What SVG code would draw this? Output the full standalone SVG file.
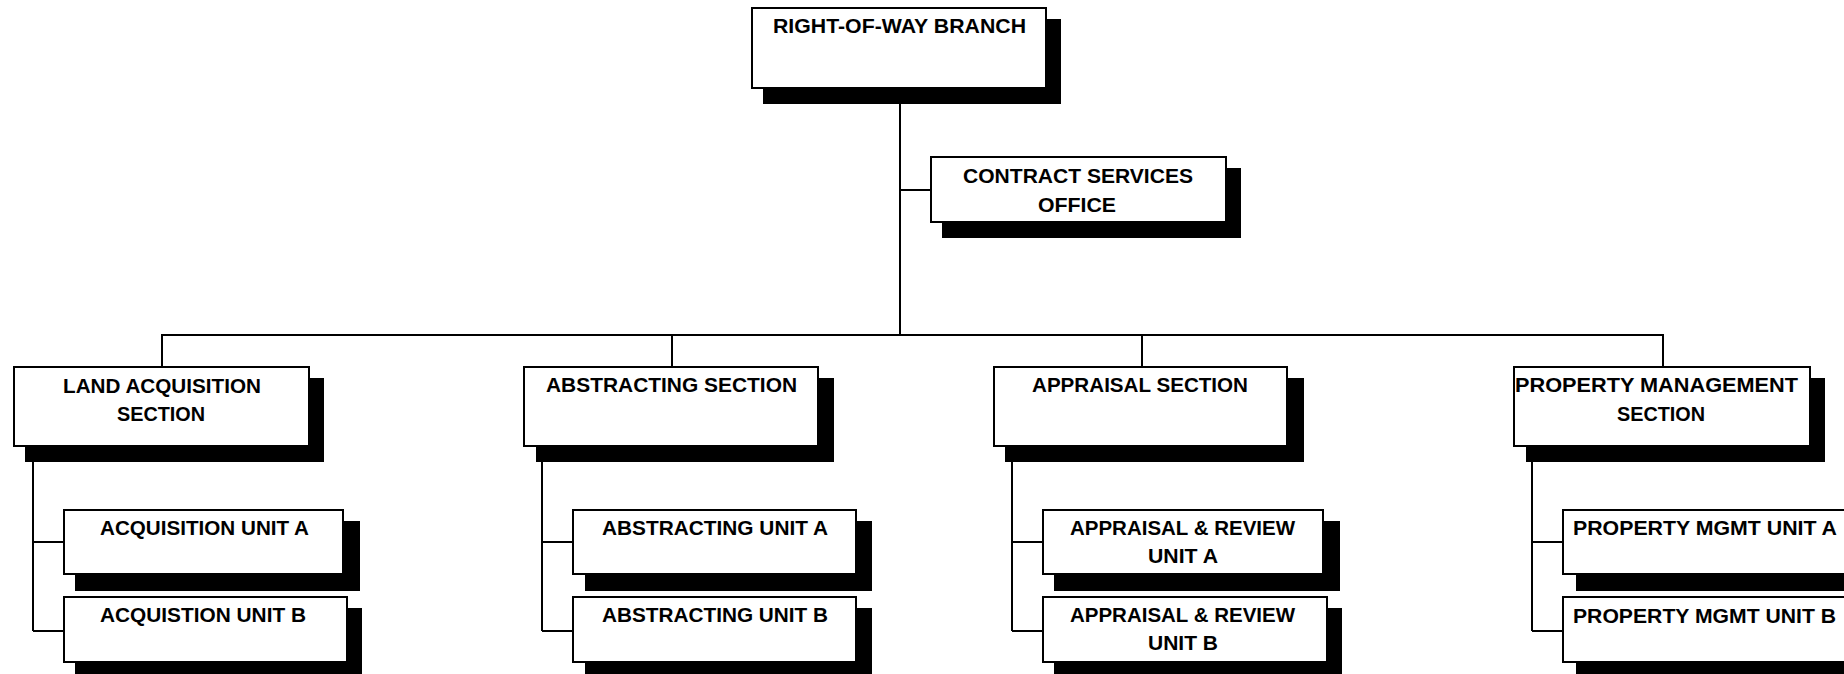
<svg xmlns="http://www.w3.org/2000/svg" width="1844" height="674" viewBox="0 0 1844 674">
<style>
.sh{fill:#000;stroke:none}
.bx{fill:#fff;stroke:#000;stroke-width:2}
.t{font-family:"Liberation Sans",Arial,sans-serif;font-weight:bold;font-size:19.5px;fill:#000;text-anchor:middle}
.ln{stroke:#000;stroke-width:2;fill:none}
</style>
<rect width="1844" height="674" fill="#fff"/>
<g id="connectors">
<line class="ln" x1="900" y1="89" x2="900" y2="335"/>
<line class="ln" x1="900" y1="190" x2="930" y2="190"/>
<line class="ln" x1="161" y1="335" x2="1664" y2="335"/>
<line class="ln" x1="162" y1="335" x2="162" y2="366"/>
<line class="ln" x1="672" y1="335" x2="672" y2="366"/>
<line class="ln" x1="1142" y1="335" x2="1142" y2="366"/>
<line class="ln" x1="1663" y1="335" x2="1663" y2="366"/>
<path class="ln" d="M33 447 V631 M33 542 H63 M33 631 H63"/>
<path class="ln" d="M542 447 V631 M542 542 H572 M542 631 H572"/>
<path class="ln" d="M1012 447 V631 M1012 542 H1042 M1012 631 H1042"/>
<path class="ln" d="M1532 447 V631 M1532 542 H1562 M1532 631 H1562"/>
</g>
<g id="n-row">
<rect class="sh" x="763" y="19" width="298" height="85"/>
<rect class="bx" x="752" y="8" width="294" height="80"/>
<text class="t" x="899.5" y="33" textLength="253" lengthAdjust="spacingAndGlyphs">RIGHT-OF-WAY BRANCH</text>
</g>
<g id="n-contract">
<rect class="sh" x="942" y="168" width="299" height="70"/>
<rect class="bx" x="931" y="157" width="295" height="65"/>
<text class="t" x="1078" y="183" textLength="230" lengthAdjust="spacingAndGlyphs">CONTRACT SERVICES</text>
<text class="t" x="1077" y="212" textLength="78" lengthAdjust="spacingAndGlyphs">OFFICE</text>
</g>
<g id="n-land">
<rect class="sh" x="25" y="378" width="299" height="84"/>
<rect class="bx" x="14" y="367" width="295" height="79"/>
<text class="t" x="162" y="393" textLength="198" lengthAdjust="spacingAndGlyphs">LAND ACQUISITION</text>
<text class="t" x="161" y="421" textLength="88" lengthAdjust="spacingAndGlyphs">SECTION</text>
</g>
<g id="n-acqa">
<rect class="sh" x="75" y="521" width="285" height="70"/>
<rect class="bx" x="64" y="510" width="279" height="64"/>
<text class="t" x="204.5" y="535" textLength="209" lengthAdjust="spacingAndGlyphs">ACQUISITION UNIT A</text>
</g>
<g id="n-acqb">
<rect class="sh" x="75" y="608" width="287" height="70"/>
<rect class="bx" x="64" y="597" width="283" height="65"/>
<text class="t" x="203" y="622" textLength="206" lengthAdjust="spacingAndGlyphs">ACQUISTION UNIT B</text>
</g>
<g id="n-abs">
<rect class="sh" x="536" y="378" width="298" height="84"/>
<rect class="bx" x="524" y="367" width="294" height="79"/>
<text class="t" x="671.5" y="392" textLength="251" lengthAdjust="spacingAndGlyphs">ABSTRACTING SECTION</text>
</g>
<g id="n-absa">
<rect class="sh" x="585" y="521" width="287" height="70"/>
<rect class="bx" x="573" y="510" width="283" height="64"/>
<text class="t" x="715" y="535" textLength="226" lengthAdjust="spacingAndGlyphs">ABSTRACTING UNIT A</text>
</g>
<g id="n-absb">
<rect class="sh" x="585" y="608" width="287" height="70"/>
<rect class="bx" x="573" y="597" width="283" height="65"/>
<text class="t" x="715" y="622" textLength="226" lengthAdjust="spacingAndGlyphs">ABSTRACTING UNIT B</text>
</g>
<g id="n-app">
<rect class="sh" x="1005" y="378" width="299" height="84"/>
<rect class="bx" x="994" y="367" width="293" height="79"/>
<text class="t" x="1140" y="392" textLength="216" lengthAdjust="spacingAndGlyphs">APPRAISAL SECTION</text>
</g>
<g id="n-appa">
<rect class="sh" x="1054" y="521" width="286" height="70"/>
<rect class="bx" x="1043" y="510" width="280" height="64"/>
<text class="t" x="1182.5" y="535" textLength="225" lengthAdjust="spacingAndGlyphs">APPRAISAL &amp; REVIEW</text>
<text class="t" x="1183" y="563" textLength="70" lengthAdjust="spacingAndGlyphs">UNIT A</text>
</g>
<g id="n-appb">
<rect class="sh" x="1054" y="608" width="288" height="70"/>
<rect class="bx" x="1043" y="597" width="284" height="65"/>
<text class="t" x="1182.5" y="622" textLength="225" lengthAdjust="spacingAndGlyphs">APPRAISAL &amp; REVIEW</text>
<text class="t" x="1183" y="650" textLength="70" lengthAdjust="spacingAndGlyphs">UNIT B</text>
</g>
<g id="n-prop">
<rect class="sh" x="1526" y="378" width="299" height="84"/>
<rect class="bx" x="1514" y="367" width="296" height="79"/>
<text class="t" x="1656.5" y="392" textLength="283" lengthAdjust="spacingAndGlyphs">PROPERTY MANAGEMENT</text>
<text class="t" x="1661" y="421" textLength="88" lengthAdjust="spacingAndGlyphs">SECTION</text>
</g>
<g id="n-propa">
<rect class="sh" x="1576" y="521" width="290" height="70"/>
<rect class="bx" x="1563" y="510" width="285" height="64"/>
<text class="t" x="1705" y="535" textLength="264" lengthAdjust="spacingAndGlyphs">PROPERTY MGMT UNIT A</text>
</g>
<g id="n-propb">
<rect class="sh" x="1576" y="608" width="290" height="70"/>
<rect class="bx" x="1563" y="597" width="285" height="65"/>
<text class="t" x="1704.5" y="623" textLength="263" lengthAdjust="spacingAndGlyphs">PROPERTY MGMT UNIT B</text>
</g>
</svg>
